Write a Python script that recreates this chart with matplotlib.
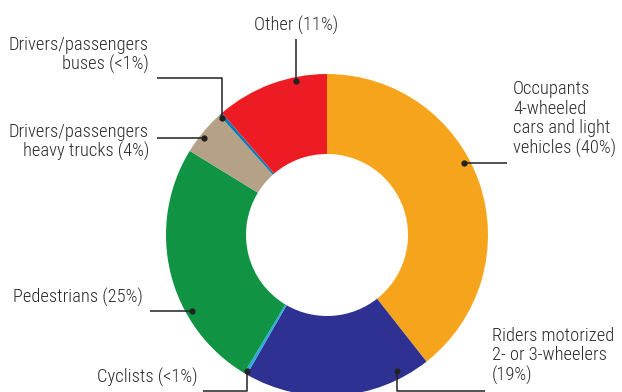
import matplotlib
matplotlib.use("Agg")
import matplotlib.pyplot as plt

categories = ["Occupants 4-wheeled cars and light vehicles", "Riders motorized 2- or 3-wheelers",
              "Cyclists", "Pedestrians", "Drivers/passengers heavy trucks",
              "Drivers/passengers buses", "Other"]
# shares as drawn in the reference (%)
values = [39.4, 18.9, 0.3, 25.15, 4.6, 0.35, 11.3]
colors = ["#F7A41D", "#2E3192", "#29ABE2", "#109444", "#B5A286", "#0F7AB8", "#ED1C24"]
labels = ["Occupants\n4-wheeled\ncars and light\nvehicles (40%)",
          "Riders motorized\n2- or 3-wheelers\n(19%)",
          "Cyclists (<1%)",
          "Pedestrians (25%)",
          "Drivers/passengers\nheavy trucks (4%)",
          "Drivers/passengers\nbuses (<1%)",
          "Other (11%)"]

plt.rcParams['font.family'] = ["Roboto Condensed", "DejaVu Sans"]

W, H = 622, 392
fig = plt.figure(figsize=(W / 100, H / 100), dpi=100)
ax = fig.add_axes([0, 0, 1, 1])

def Y(py):
    return H - py

cx, cy, R = 327, 235, 161
ax.pie(values, colors=colors, startangle=90, counterclock=False,
       center=(cx, Y(cy)), radius=R,
       wedgeprops=dict(width=80, linewidth=0))
ax.set_xlim(0, W)
ax.set_ylim(0, H)
ax.set_aspect('equal')
ax.axis('off')

tc = "#2B2B2B"
fs = 13.3
fw = 300
lc = "#222222"

def leader(pts):
    xs = [p[0] for p in pts]
    ys = [Y(p[1]) for p in pts]
    ax.plot(xs, ys, color=lc, lw=1.1, solid_capstyle='butt')
    ax.plot(xs[-1], ys[-1], 'o', color=lc, ms=3.5)

def label(x, y, s, ha):
    ax.text(x, Y(y), s, ha=ha, va='center', fontsize=fs, color=tc,
            fontweight=fw, linespacing=1.1)

# Occupants
leader([(507, 163), (464, 163)])
label(513, 119, labels[0], 'left')
# Riders
leader([(485, 391), (397, 391), (397, 371)])
label(492, 356, labels[1], 'left')
# Cyclists
leader([(203, 391), (247, 391), (247, 371)])
label(198, 377, labels[2], 'right')
# Pedestrians
leader([(150, 311), (192, 311)])
label(143, 297, labels[3], 'right')
# Trucks
leader([(157, 138), (204, 138)])
label(149, 142, labels[4], 'right')
# Buses
leader([(157, 78), (222, 78), (222, 118)])
label(149, 55, labels[5], 'right')
# Other
leader([(296, 39), (296, 81)])
label(296, 25, labels[6], 'center')

fig.savefig("out.png", dpi=100, facecolor="white")
